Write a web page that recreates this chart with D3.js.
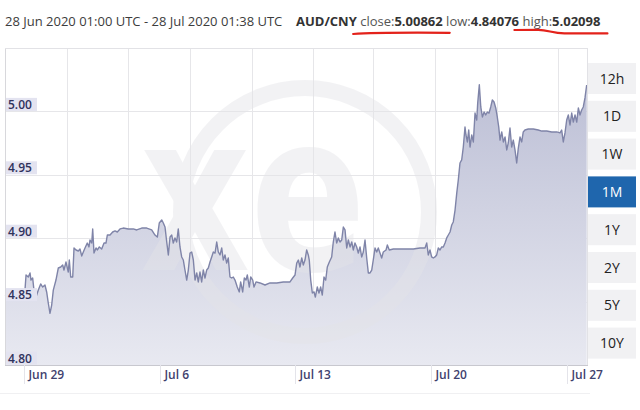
<!DOCTYPE html>
<html><head><meta charset="utf-8">
<script src="https://cdn.jsdelivr.net/npm/d3@7"></script>
<style>
body{margin:0;background:#fff;}
svg{display:block;font-family:"Open Sans",sans-serif;}
</style>
</head><body>
<svg id="c" width="640" height="410"></svg>
<script>
// ---------------- data ----------------
const startUTC = Date.UTC(2020, 5, 28, 1, 0);
const endUTC = Date.UTC(2020, 6, 28, 1, 38);
const rangeText = "28 Jun 2020 01:00 UTC - 28 Jul 2020 01:38 UTC";
const pair = "AUD/CNY";
const statLabels = ["close:", "low:", "high:"];
const statValues = ["5.00862", "4.84076", "5.02098"];
const watermarkText = "xe";
// hours since start
const hours = [0,12.4,22.2,24.7,26.0,28.8,30.9,32.1,34.2,35.8,
38.3,41.2,44.1,46.6,49.4,51.5,53.5,55.6,57.7,59.7,
63.0,65.9,68.9,71.3,72.9,75.4,78.2,79.5,81.2,83.7,
85.3,87.8,90.6,92.7,94.8,96.8,98.9,101.7,103.8,105.1,
107.2,108.4,110.0,112.5,114.1,116.6,119.5,122.4,124.8,126.5,
129.8,133.1,136.0,138.8,142.2,146.2,152.4,158.6,162.8,169.0,
175.2,181.3,185.4,188.3,190.7,193.7,195.7,197.8,199.9,201.9,
204.0,206.1,208.0,210.1,212.2,214.2,216.3,218.4,220.4,222.5,
224.6,226.6,228.7,230.8,232.8,234.9,237.0,238.9,241.0,243.1,
245.1,247.2,249.3,251.3,253.4,255.5,257.5,259.6,261.7,263.7,
265.8,267.9,269.8,271.9,274.0,276.0,278.1,280.2,282.2,284.3,
287.1,289.6,291.3,293.8,295.8,297.9,299.5,302.0,303.7,306.2,
307.8,310.3,315.2,321.4,327.6,335.9,344.0,352.3,355.6,358.5,
360.6,362.6,364.6,366.8,368.7,370.8,372.9,374.9,376.1,377.9,
379.9,382.0,383.6,386.0,388.1,390.2,392.2,394.3,396.4,398.4,
400.9,403.8,405.8,407.9,410.0,412.0,414.1,416.2,418.2,420.3,
422.4,424.4,426.5,428.6,430.5,432.6,434.7,436.7,438.8,440.9,
442.9,445.0,447.1,449.1,451.2,453.3,455.2,457.4,459.5,461.4,
463.5,465.6,467.6,471.0,472.6,475.0,480.0,488.3,496.5,504.7,
513.0,519.2,521.3,523.2,525.3,527.4,529.4,531.5,533.6,535.6,
537.7,539.8,541.8,543.9,546.0,548.0,550.1,552.2,554.1,556.3,
558.4,560.3,562.4,564.5,566.5,568.6,569.8,571.5,573.2,574.8,
576.9,578.9,581.0,583.1,584.3,586.3,588.1,590.1,592.2,594.2,
596.2,598.3,600.4,602.4,604.5,606.6,608.5,610.3,611.9,614.0,
616.0,618.1,620.2,622.1,624.2,626.3,628.3,630.4,632.5,634.5,
636.6,638.7,640.6,642.7,646.8,653.0,659.2,663.4,669.6,675.8,
682.0,686.0,688.1,690.1,692.2,694.3,696.3,698.4,700.5,702.5,
704.6,706.7,708.7,710.7,712.8,714.8,716.9,719.0];
const rate = [4.8544,4.8560,4.8544,4.8591,4.8710,4.8694,4.8726,4.8670,4.8686,4.8591,
4.8536,4.8591,4.8639,4.8615,4.8631,4.8576,4.8489,4.8408,4.8473,4.8591,
4.8670,4.8765,4.8773,4.8789,4.8749,4.8812,4.8733,4.8828,4.8694,4.8694,
4.8923,4.8907,4.8899,4.8915,4.8860,4.8891,4.8923,4.8962,4.8931,4.8986,
4.8962,4.9073,4.8883,4.8923,4.8907,4.8931,4.8915,4.8962,4.8962,4.9025,
4.9025,4.9049,4.9057,4.9049,4.9073,4.9080,4.9073,4.9073,4.9065,4.9080,
4.9080,4.9065,4.9025,4.9009,4.9120,4.9144,4.9120,4.9088,4.8970,4.8868,
4.9009,4.9025,4.8962,4.9002,4.8970,4.9073,4.8931,4.8852,4.8828,4.8749,
4.8670,4.8749,4.8883,4.8891,4.8828,4.8670,4.8726,4.8655,4.8733,4.8655,
4.8749,4.8686,4.8749,4.8765,4.8812,4.8852,4.8891,4.8883,4.8970,4.8891,
4.8868,4.8923,4.8828,4.8868,4.8804,4.8844,4.8694,4.8686,4.8694,4.8670,
4.8615,4.8576,4.8655,4.8576,4.8686,4.8670,4.8710,4.8615,4.8694,4.8670,
4.8615,4.8655,4.8647,4.8631,4.8647,4.8647,4.8655,4.8655,4.8686,4.8710,
4.8804,4.8828,4.8773,4.8844,4.8789,4.8828,4.8907,4.8868,4.8828,4.8670,
4.8568,4.8576,4.8536,4.8615,4.8568,4.8615,4.8552,4.8694,4.8670,4.8773,
4.8812,4.8852,4.8970,4.9049,4.8962,4.9002,4.8970,4.8986,4.9088,4.9065,
4.8923,4.8986,4.8931,4.8970,4.8907,4.8962,4.8931,4.8883,4.8931,4.8852,
4.8891,4.8986,4.8844,4.8726,4.8726,4.8749,4.8828,4.8923,4.8891,4.8923,
4.8883,4.8844,4.8891,4.8907,4.8946,4.8907,4.8915,4.8915,4.8915,4.8915,
4.8923,4.8923,4.8962,4.8868,4.8907,4.8852,4.8844,4.8852,4.8868,4.8923,
4.8907,4.8931,4.8931,4.8962,4.9002,4.9025,4.9049,4.9104,4.9128,4.9222,
4.9356,4.9459,4.9593,4.9617,4.9719,4.9877,4.9814,4.9759,4.9853,4.9719,
4.9814,4.9759,4.9987,4.9932,5.0066,5.0210,5.0035,4.9956,4.9995,4.9972,
4.9995,4.9987,5.0035,5.0090,5.0074,5.0027,4.9956,4.9877,4.9774,4.9838,
4.9759,4.9798,4.9696,4.9751,4.9869,4.9719,4.9774,4.9696,4.9593,4.9711,
4.9798,4.9759,4.9838,4.9853,4.9861,4.9861,4.9853,4.9845,4.9845,4.9838,
4.9838,4.9830,4.9853,4.9759,4.9830,4.9932,4.9972,4.9893,4.9987,4.9916,
4.9972,4.9916,5.0027,4.9972,5.0011,5.0035,5.0106,5.0208];
const yTicks = [4.80, 4.85, 4.90, 4.95, 5.00];
const xTickDates = ["2020-06-29", "2020-07-06", "2020-07-13", "2020-07-20", "2020-07-27"];
const xTickLabels = ["Jun 29", "Jul 6", "Jul 13", "Jul 20", "Jul 27"];
const gridHours = [76.6, 152.4, 228.7, 304.9, 381.1, 455.3, 531.5, 607.8, 683.9];
const periods = ["12h", "1D", "1W", "1M", "1Y", "2Y", "5Y", "10Y"];
const activePeriod = "1M";

// ---------------- layout ----------------
const L = 5, R = 588, T = 48, B = 365;
const svg = d3.select("#c");
const H = 3600 * 1000;
const points = hours.map((h, i) => ({ t: new Date(startUTC + h * H), v: rate[i] }));

const x = d3.scaleUtc().domain([new Date(startUTC), new Date(endUTC)]).range([L, R]);
const y = d3.scaleLinear().domain([4.80, 5.05]).range([B, T]);

const defs = svg.append("defs");
const grad = defs.append("linearGradient").attr("id", "fillg")
  .attr("gradientUnits", "userSpaceOnUse").attr("x1", 0).attr("x2", 0).attr("y1", T).attr("y2", B);
grad.append("stop").attr("offset", "0%").attr("stop-color", "#b7bad2");
grad.append("stop").attr("offset", "100%").attr("stop-color", "#e8e9f1");
defs.append("clipPath").attr("id", "plotclip").append("rect")
  .attr("x", L).attr("y", T).attr("width", R - L).attr("height", B - T);

// grid
const g = svg.append("g");
g.selectAll("line.vg").data(gridHours).join("line")
  .attr("x1", d => Math.round(x(new Date(startUTC + d * H))) + 0.5)
  .attr("x2", d => Math.round(x(new Date(startUTC + d * H))) + 0.5)
  .attr("y1", T).attr("y2", B).attr("stroke", "#e6e6e9");
g.selectAll("line.hg").data(yTicks.slice(1)).join("line")
  .attr("x1", L).attr("x2", R)
  .attr("y1", d => Math.round(y(d)) + 0.5).attr("y2", d => Math.round(y(d)) + 0.5)
  .attr("stroke", "#e6e6e9");

// area + line
const area = d3.area().x(d => x(d.t)).y0(B).y1(d => y(d.v));
const line = d3.line().x(d => x(d.t)).y(d => y(d.v));
svg.append("path").datum(points).attr("d", area).attr("fill", "url(#fillg)");

// watermark (faint logo)
const wm = svg.append("g").attr("clip-path", "url(#plotclip)").attr("opacity", 0.45);
wm.append("circle").attr("cx", 305).attr("cy", 212).attr("r", 124)
  .attr("fill", "none").attr("stroke", "#e4e4e8").attr("stroke-width", 16);
wm.append("text").attr("x", 140).attr("y", 270).text(watermarkText)
  .attr("font-family", "DejaVu Sans").attr("font-weight", "bold").attr("font-size", 220)
  .attr("textLength", 226).attr("lengthAdjust", "spacingAndGlyphs").attr("fill", "#e4e4e8");

svg.append("path").datum(points).attr("d", line)
  .attr("fill", "none").attr("stroke", "#7f84a8").attr("stroke-width", 1.4).attr("stroke-linejoin", "round");

// borders
svg.append("line").attr("x1", L + 0.5).attr("x2", L + 0.5).attr("y1", T).attr("y2", B).attr("stroke", "#d8d8dc");
svg.append("line").attr("x1", L).attr("x2", R).attr("y1", T + 0.5).attr("y2", T + 0.5).attr("stroke", "#e2e2e6");
svg.append("line").attr("x1", R - 0.5).attr("x2", R - 0.5).attr("y1", T).attr("y2", B).attr("stroke", "#e2e2e6");
svg.append("line").attr("x1", L).attr("x2", R).attr("y1", B + 0.5).attr("y2", B + 0.5).attr("stroke", "#c8c8cf").attr("stroke-width", 1.2);
svg.append("line").attr("x1", 0).attr("x2", 590).attr("y1", 393.5).attr("y2", 393.5).attr("stroke", "#f0f0f2");

// y labels
const yl = svg.append("g").selectAll("g").data(yTicks).join("g");
yl.append("rect").attr("x", L + 1).attr("y", d => y(d) - 13.5).attr("width", 31).attr("height", 13)
  .attr("fill", "#e3e3f0");
yl.append("text").attr("x", L + 3).attr("y", d => y(d) - 2.5)
  .attr("font-size", 12).attr("font-weight", 600).attr("fill", "#30325c")
  .text(d => d.toFixed(2));

// x axis ticks + labels
const xt = svg.append("g").selectAll("g").data(xTickDates).join("g")
  .attr("transform", d => `translate(${Math.round(x(new Date(d + "T00:00:00Z"))) + 0.5},0)`);
xt.append("line").attr("y1", B).attr("y2", B + 19).attr("stroke", "#e4e4ea");
xt.append("text").attr("x", 4).attr("y", 379).attr("font-size", 12).attr("font-weight", 600)
  .attr("fill", "#3f416e").text((d, i) => xTickLabels[i]);

// period buttons
const btn = svg.append("g").selectAll("g").data(periods).join("g")
  .attr("transform", (d, i) => `translate(588,${63 + i * 37.8})`);
btn.append("rect").attr("width", 48).attr("height", 31)
  .attr("fill", d => d === activePeriod ? "#1f66ad" : "#f1f1f3");
btn.append("text").attr("x", 24).attr("y", 20.5).attr("text-anchor", "middle")
  .attr("font-size", 14).attr("fill", d => d === activePeriod ? "#ffffff" : "#222")
  .text(d => d);

// header
svg.append("text").attr("x", 5).attr("y", 25.5).attr("font-size", 13).attr("fill", "#3c3c3c").text(rangeText);
const hdr = svg.append("g").attr("font-size", 13);
let cx = 296;
const pieces = [{ s: pair, b: true, key: "pair" }];
statLabels.forEach((l, i) => {
  pieces.push({ s: " ", b: false });
  pieces.push({ s: l, b: false, key: "lab" + i });
  pieces.push({ s: statValues[i], b: true, key: "val" + i });
});
const pos = {};
pieces.forEach(p => {
  const t = hdr.append("text").attr("x", cx).attr("y", 25.5)
    .attr("font-weight", p.b ? 700 : 400).attr("fill", p.b ? "#333" : "#555")
    .attr("xml:space", "preserve").style("white-space", "pre").text(p.s);
  const w = t.node().getComputedTextLength();
  if (p.key) pos[p.key] = { x0: cx, x1: cx + w };
  cx += w;
});
// red hand-drawn underlines
const a1 = pos.lab0.x0 - 7, b1 = pos.val0.x1 + 7;
svg.append("path")
  .attr("d", `M${a1},34 C${a1 + 20},32.5 ${b1 - 40},32.5 ${b1},32.8`)
  .attr("fill", "none").attr("stroke", "#e3221b").attr("stroke-width", 2.2).attr("stroke-linecap", "round");
const a2 = pos.lab2.x0 - 8, b2 = pos.val2.x1 + 7;
svg.append("path")
  .attr("d", `M${a2},30 L${a2 + 24},29.8 C${a2 + 34},30 ${a2 + 38},33.2 ${a2 + 50},33.4 L${b2},33.4`)
  .attr("fill", "none").attr("stroke", "#e3221b").attr("stroke-width", 2.2).attr("stroke-linecap", "round");
</script>
</body></html>
